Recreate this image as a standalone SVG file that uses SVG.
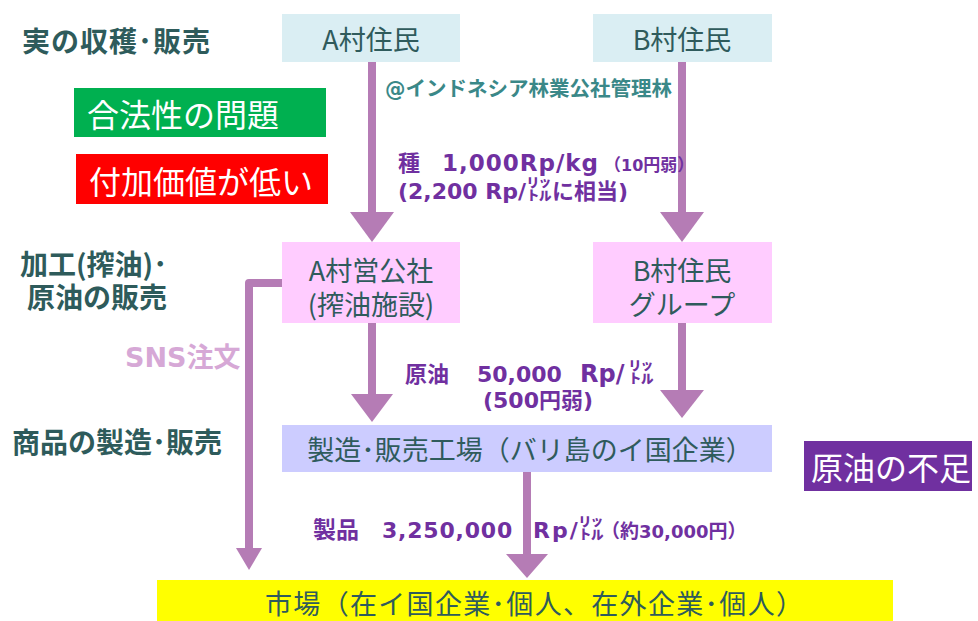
<svg xmlns="http://www.w3.org/2000/svg" width="978" height="621" viewBox="0 0 978 621">
<style>
  .box-t { font-family: "Noto Sans CJK JP", sans-serif; font-size: 27px; fill: #2F5B5C; text-anchor: middle; }
  .wh { font-family: "Noto Sans CJK JP", sans-serif; fill: #FFFFFF; font-size: 32px; }
  .lab { font-family: "Noto Sans CJK JP", sans-serif; font-weight: bold; font-size: 28px; fill: #2E5B5B; }
  .pur { font-family: "DejaVu Sans", "Noto Sans CJK JP", sans-serif; font-weight: bold; font-size: 22px; fill: #7030A0; }
  .jpb { font-family: "Noto Sans CJK JP", sans-serif; font-weight: bold; }
  .lat { font-family: "DejaVu Sans", sans-serif; font-weight: bold; }
  .lit { font-family: "Noto Sans CJK JP", sans-serif; font-weight: bold; font-size: 26px; }
  .conn { stroke: #B57CB5; stroke-width: 8; fill: none; }
  .head { fill: #B57CB5; }
</style>
<rect width="978" height="621" fill="#FFFFFF"/>

<g id="connectors">
  <line class="conn" x1="372" y1="62" x2="372" y2="214"/>
  <polygon class="head" points="350,212 394,212 372,242"/>
  <line class="conn" x1="682" y1="62" x2="682" y2="214"/>
  <polygon class="head" points="660,212 704,212 682,242"/>
  <line class="conn" x1="372" y1="323" x2="372" y2="396"/>
  <polygon class="head" points="351,394 393,394 372,422"/>
  <line class="conn" x1="682" y1="323" x2="682" y2="392"/>
  <polygon class="head" points="660,390 704,390 682,418"/>
  <line class="conn" x1="527" y1="472" x2="527" y2="556"/>
  <polygon class="head" points="506,554 548,554 527,578"/>
  <path class="conn" d="M282,283 H249 V550" stroke-linejoin="round"/>
  <polygon class="head" points="236,548 262,548 249,570"/>
</g>

<g id="label-harvest">
  <text class="lab" x="22" y="52" textLength="188">実の収穫･販売</text>
</g>
<g id="label-process">
  <text class="lab" x="20" y="275">加工(搾油)･</text>
  <text class="lab" x="27" y="308">原油の販売</text>
</g>
<g id="label-product">
  <text class="lab" x="12" y="453">商品の製造･販売</text>
</g>

<g id="issue-legal">
  <rect x="74" y="88" width="252" height="49" fill="#00B050"/>
  <text class="wh" x="87" y="127">合法性の問題</text>
</g>
<g id="issue-value">
  <rect x="76" y="154" width="252" height="50" fill="#FF0000"/>
  <text class="wh" x="89" y="194">付加価値が低い</text>
</g>

<g id="node-a-villagers">
  <rect x="282" y="14" width="178" height="48" fill="#DAEEF3"/>
  <text class="box-t" x="371" y="50">A村住民</text>
</g>
<g id="node-b-villagers">
  <rect x="593" y="14" width="179" height="48" fill="#DAEEF3"/>
  <text class="box-t" x="682" y="50">B村住民</text>
</g>

<g id="label-forest">
  <text x="385" y="96" font-family="DejaVu Sans, Noto Sans CJK JP, sans-serif" font-weight="bold" font-size="20.5" fill="#3A8888">@<tspan font-family="Noto Sans CJK JP, sans-serif">インドネシア林業公社管理林</tspan></text>
</g>

<g id="label-seed-price">
  <text class="pur" y="171"><tspan class="jpb" x="398">種</tspan><tspan x="442" font-size="23" letter-spacing="1">1,000Rp/kg</tspan><tspan class="jpb" x="604" font-size="17">（</tspan><tspan class="lat" font-size="16">10</tspan><tspan class="jpb" font-size="17">円弱）</tspan></text>
  <text class="pur" x="398" y="199">(2,200 Rp/<tspan class="lit">㍑</tspan><tspan class="jpb">に相当</tspan>)</text>
</g>

<g id="node-a-cooperative">
  <rect x="282" y="242" width="178" height="81" fill="#FFCCFF"/>
  <text class="box-t" x="371" y="281">A村営公社</text>
  <text class="box-t" x="371" y="315">(搾油施設)</text>
</g>
<g id="node-b-group">
  <rect x="593" y="242" width="179" height="81" fill="#FFCCFF"/>
  <text class="box-t" x="682" y="281">B村住民</text>
  <text class="box-t" x="682" y="315">グループ</text>
</g>

<g id="label-sns">
  <text x="125" y="367" font-family="DejaVu Sans, Noto Sans CJK JP, sans-serif" font-weight="bold" font-size="27" fill="#D6A8D6">SNS<tspan font-family="Noto Sans CJK JP, sans-serif">注文</tspan></text>
</g>

<g id="label-oil-price">
  <text class="pur" y="382"><tspan class="jpb" x="405">原油</tspan><tspan x="477">50,000</tspan><tspan x="580" font-size="24">Rp/</tspan><tspan class="lit" x="628">㍑</tspan></text>
  <text class="pur" x="483" y="408">(500<tspan class="jpb">円弱</tspan>)</text>
</g>

<g id="node-factory">
  <rect x="282" y="425" width="490" height="47" fill="#CCCCFF"/>
  <text class="box-t" x="530" y="460">製造･販売工場（バリ島のイ国企業）</text>
</g>

<g id="issue-oil">
  <rect x="804" y="441" width="168" height="50" fill="#7030A0"/>
  <text class="wh" x="891" y="480" text-anchor="middle" font-size="30">原油の不足</text>
</g>

<g id="label-product-price">
  <text class="pur" y="538" font-size="23"><tspan class="jpb" x="313" font-size="23">製品</tspan><tspan x="382" letter-spacing="0.8">3,250,000</tspan><tspan x="533" letter-spacing="2">Rp/</tspan><tspan class="lit" x="578">㍑</tspan><tspan class="jpb" x="601" font-size="19">（約</tspan><tspan class="lat" font-size="18">30,000</tspan><tspan class="jpb" font-size="19">円）</tspan></text>
</g>

<g id="node-market">
  <rect x="157" y="580" width="736" height="41" fill="#FFFF00"/>
  <text class="box-t" x="265" y="614" style="text-anchor:start" textLength="538">市場（在イ国企業･個人、在外企業･個人）</text>
</g>
</svg>
